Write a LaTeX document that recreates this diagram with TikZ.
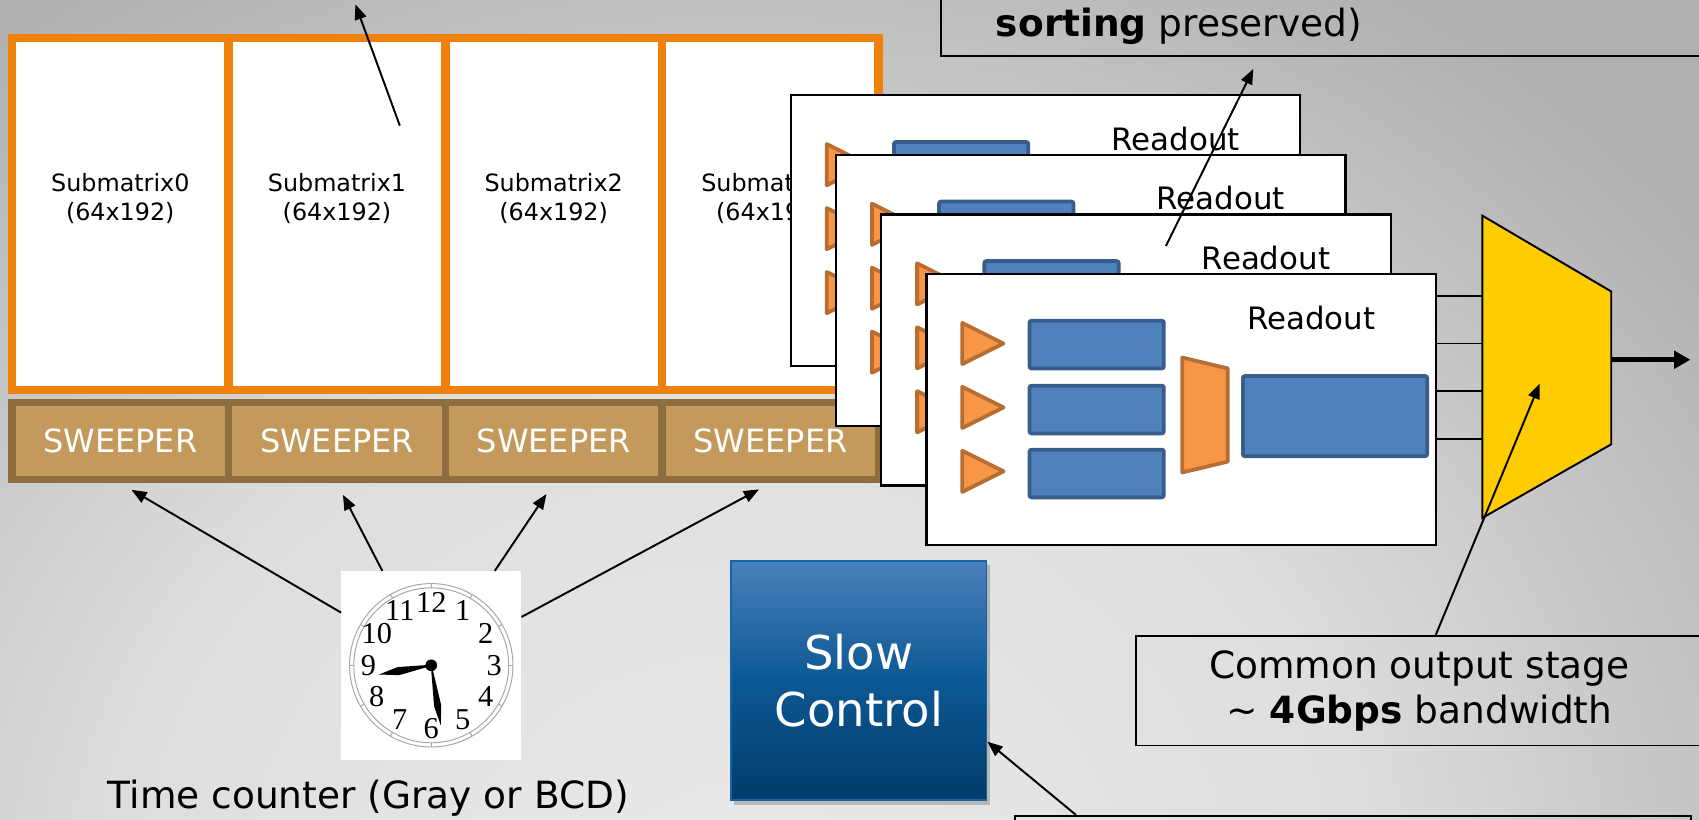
\documentclass[tikz,border=0pt]{standalone}
\usepackage{fontspec}
\setmainfont{DejaVu Sans}
\newfontfamily\clockfont{Liberation Serif}
\usetikzlibrary{calc,shadows,arrows.meta}

\definecolor{matorange}{RGB}{240,130,12}
\definecolor{swfill}{RGB}{196,154,92}
\definecolor{swline}{RGB}{142,110,63}
\definecolor{ampfill}{RGB}{247,150,70}
\definecolor{ampline}{RGB}{184,110,50}
\definecolor{buffill}{RGB}{79,129,189}
\definecolor{bufline}{RGB}{56,93,138}
\definecolor{muxfill}{RGB}{255,204,0}
\definecolor{sctop}{RGB}{74,128,186}
\definecolor{scmid}{RGB}{12,88,148}
\definecolor{scbot}{RGB}{0,60,106}
\definecolor{scline}{RGB}{22,100,162}
\definecolor{bgA}{RGB}{234,234,234}
\definecolor{bgB}{RGB}{222,222,222}
\definecolor{bgC}{RGB}{194,194,194}
\definecolor{bgD}{RGB}{176,176,176}

\pgfdeclareradialshading{slidebg}{\pgfpoint{0bp}{0bp}}{%
  color(0bp)=(bgA); color(12.5bp)=(bgB); color(20bp)=(bgC);
  color(25bp)=(bgD); color(50bp)=(bgD)}

\begin{document}
\begin{tikzpicture}[x=1pt,y=-1pt,>={Stealth[length=14pt,width=11pt,inset=0pt]}]
 \tikzstyle{subcell} = [draw=matorange,fill=white,line width=8pt,inner sep=0,minimum width=200pt,minimum height=325pt]
 \tikzstyle{subtext} = [align=center,font=\fontsize{22}{27}\selectfont]
 \tikzstyle{sweeper} = [draw=swline,fill=swfill,line width=7pt,inner sep=0,minimum width=200pt,minimum height=71pt,text=white,font=\fontsize{29.5}{30}\selectfont]
 \tikzstyle{board} = [draw,fill=white,line width=2pt,inner sep=0,minimum width=470pt,minimum height=250pt]
 \tikzstyle{rotext} = [font=\fontsize{28.5}{30}\selectfont]
 \tikzstyle{amp} = [draw=ampline,fill=ampfill,line width=3.5pt,line join=round]
 \tikzstyle{buf} = [draw=bufline,fill=buffill,line width=3.5pt,rounded corners=2pt]
 \tikzstyle{mux} = [draw,fill=muxfill,line width=1.8pt,line join=miter]
 \tikzstyle{pointer} = [->,line width=1.8pt]
 \tikzstyle{wire} = [line width=1.8pt]
 \tikzstyle{callout} = [draw,line width=1.8pt,inner sep=0]
 \tikzstyle{bigtext} = [align=center,font=\fontsize{34.6}{42}\selectfont]
 \tikzstyle{clocknum} = [inner sep=0,font=\clockfont\fontsize{28}{28}\selectfont]
 \tikzstyle{slowctl} = [draw=scline,line width=1.5pt,top color=sctop,bottom color=scbot,middle color=scmid,
   minimum width=236pt,minimum height=221pt,inner sep=0,text=white,align=center,
   font=\fontsize{43}{52}\selectfont,drop shadow={shadow xshift=3pt,shadow yshift=-4pt,opacity=0.45}]
 % one readout card: #1 index, (#2,#3) top left corner
 \newcommand{\roboard}[3]{%
  \begin{scope}[shift={(#2,#3)}]
   \node[board] (ro#1) at (235,125) {};
   \node[rotext] at (355,40) {Readout};
   \foreach \t in {45,104,163}
     \draw[amp] (33,\t) -- (71,\t+19) -- (33,\t+38) -- cycle;
   \foreach \t in {43,103,162}
     \draw[buf] (95,\t) rectangle (219,\t+44);
   \draw[amp] (236,77) -- (278,87) -- (278,173) -- (236,183) -- cycle;
   \draw[buf] (292,94) rectangle (462,168);
  \end{scope}}

 \useasboundingbox (0,0) rectangle (1568,756);
 \clip (0,0) rectangle (1568,756);
 \shade[shading=slidebg] (-470,-170) rectangle (1830,1830);

% Pixel matrix and sweepers
 \foreach \i in {0,...,3} {
   \node[subcell] (sub\i) at (111+200*\i,197.5) {};
   \node[subtext] at ([yshift=14pt]sub\i.center) {Submatrix\i\\(64x192)};
   \node[sweeper] (sw\i) at (111+200*\i,407) {SWEEPER};
 }
 \coordinate (subptr) at (369,116);
 \coordinate (uplink) at (328,4);
 \draw[pointer] (subptr) -- (uplink);

% Time counter
 \node[fill=white,inner sep=0,minimum width=166pt,minimum height=174pt] (clock) at (398,614) {};
 \begin{scope}[shift={(clock.center)}]
  \draw[gray!70,line width=0.9pt] (0,0) circle (75.4) (0,0) circle (71.5);
  \foreach \a in {0,30,...,330}
    \draw[gray!70,line width=0.9pt] (\a:71.5) -- (\a:75.4);
  \foreach \n in {1,...,12}
    \node[clocknum] at ({30*\n-90}:58) {\n};
  \fill (170:49) -- (177:31) -- (350:5) -- (163:31) -- cycle;
  \fill (81:56) -- (86:38) -- (261:5) -- (76:38) -- cycle;
  \fill (0,0) circle (5.4);
 \end{scope}
 \foreach \i in {0,...,3}
   \draw[pointer,shorten >=12pt] (clock) -- (sw\i.south);
 \node[bigtext] (tc) at (340,737) {Time counter (Gray or BCD)};

% Readout cards
 \foreach \k in {0,...,3} {
   \roboard{\k}{730+41.7*\k}{88+55*\k}
 }

% Output stage
 \coordinate (mux-nw) at (1368,199);
 \coordinate (mux-ne) at (1487,269);
 \coordinate (mux-se) at (1487,410);
 \coordinate (mux-sw) at (1368,478);
 \foreach \w in {273,317,361,405}
   \draw[wire] (ro3.east |- 0,\w) -- (mux-nw |- 0,\w);
 \draw[mux] (mux-nw) -- (mux-ne) -- (mux-se) -- (mux-sw) -- cycle;
 \coordinate (dataout) at (1560,332);
 \draw[line width=4.3pt,-{Triangle[length=15pt,width=16pt]}] (mux-ne |- dataout) -- (dataout);

% Notes
 \node[callout,minimum width=772pt,minimum height=152pt] (srt) at (1254,-24) {};
 \node[bigtext] (srttext) at (1088,24) {\textbf{sorting} preserved)};
 \coordinate (roptr) at (1076,227);
 \draw[pointer,shorten >=12pt] (roptr) -- ([xshift=-92pt]srt.south);

 \node[callout,bigtext,minimum width=524pt,minimum height=101pt] (cos) at (1310,637.5)
   {Common output stage\\\textasciitilde{} \textbf{4Gbps} bandwidth};
 \coordinate (muxptr) at (1421,354);
 \draw[pointer] ([xshift=15pt]cos.north) -- (muxptr);

% Slow control
 \node[slowctl] (sc) at (792.5,628) {Slow\\Control};
 \node[callout,minimum width=624pt,minimum height=147pt] (scbox) at (1249,826.5) {};
 \draw[pointer] ([xshift=-256pt]scbox.north) -- ([yshift=-56.5pt]sc.east);
\end{tikzpicture}
\end{document}
